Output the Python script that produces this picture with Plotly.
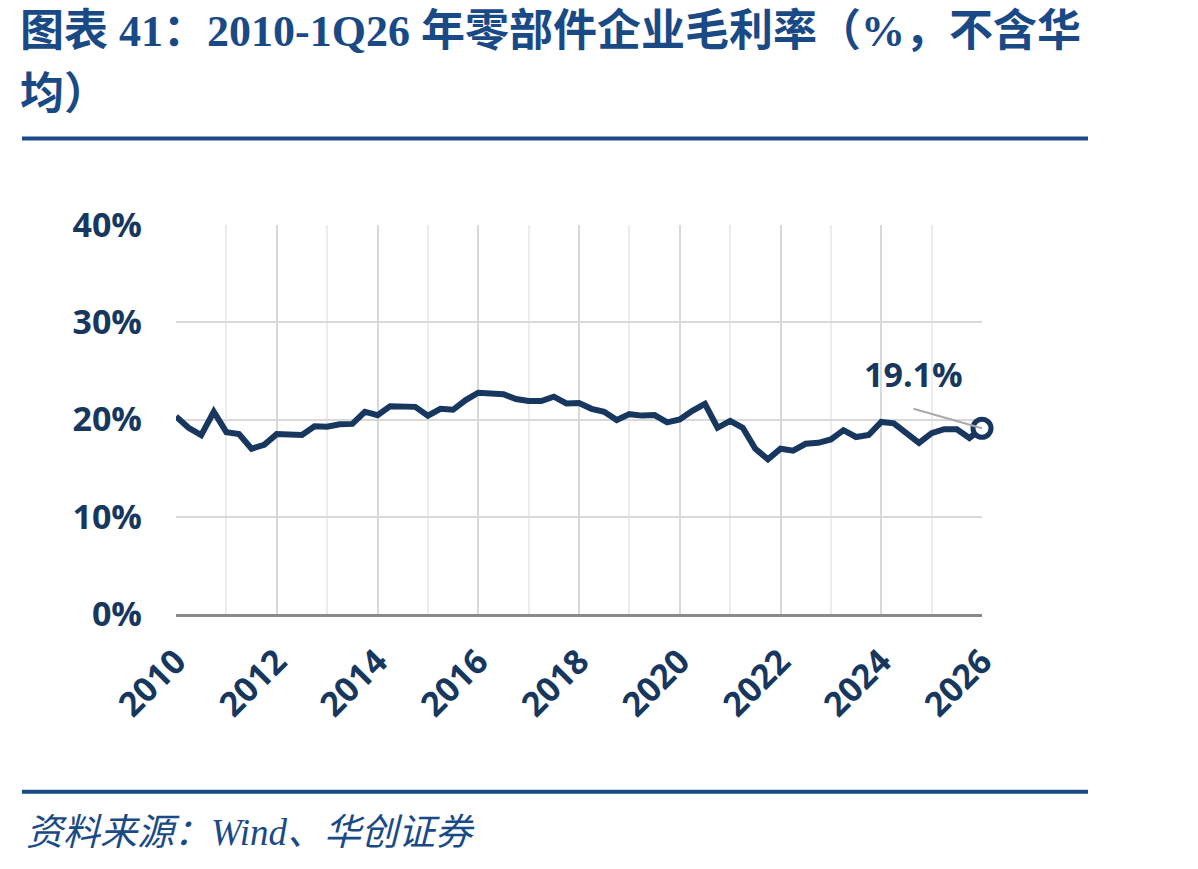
import plotly.graph_objects as go

# ---- data ----
quarters = [f"{y}Q{q}" for y in range(2010, 2026) for q in range(1, 5)] + ["2026Q1"]
margin_pct = [20.3, 19.15, 18.4, 20.8, 18.7, 18.5, 17.0, 17.4, 18.5, 18.45,
              18.4, 19.3, 19.25, 19.5, 19.55, 20.8, 20.45, 21.35, 21.3, 21.3,
              20.4, 21.1, 21.0, 22.0, 22.75, 22.6, 22.6, 22.1, 21.9, 21.9,
              22.35, 21.65, 21.7, 21.1, 20.8, 19.95, 20.55, 20.4, 20.45, 19.7,
              20.0, 20.9, 21.6, 19.15, 19.85, 19.15, 17.0, 15.9, 17.0, 16.8,
              17.5, 17.6, 17.95, 18.9, 18.2, 18.4, 19.75, 19.6, 18.5, 17.6,
              18.6, 19.0, 19.0, 18.1, 19.1]
year_ticks = list(range(2010, 2027, 2))
y_ticks = [0, 10, 20, 30, 40]
y_tick_labels = ["0%", "10%", "20%", "30%", "40%"]
last_label = "19.1%"

title_lines = ["图表 41：2010-1Q26 年零部件企业毛利率（%，不含华", "均）"]
source_text = "资料来源：Wind、华创证券"

# ---- positions ----
xpos = [int(s[:4]) + (int(s[-1]) - 1) / 4 for s in quarters]

W, H = 1198, 869
L, R, T, B = 176, 982, 224.5, 614
def px(x):
    return (x - L) / (R - L)
def py(y):
    return (B - y) / (B - T)

NAVY = "#17375e"
BLUE = "#1a4a86"

fig = go.Figure()
fig.add_trace(go.Scatter(x=xpos, y=margin_pct, mode="lines",
                         line=dict(color=NAVY, width=6), hoverinfo="skip",
                         showlegend=False))
fig.add_trace(go.Scatter(x=[xpos[-1]], y=[margin_pct[-1]], mode="markers",
                         marker=dict(symbol="circle", size=18, color="white",
                                     line=dict(color=NAVY, width=5)),
                         cliponaxis=False, showlegend=False))

fig.update_layout(
    width=W, height=H,
    margin=dict(l=L, r=W - R, t=T, b=H - B, pad=0),
    paper_bgcolor="white", plot_bgcolor="white",
    font=dict(family="Open Sans", color=NAVY),
)
fig.update_xaxes(range=[2010, 2026], tickvals=year_ticks,
                 ticktext=[str(v) for v in year_ticks], tickangle=-45,
                 tickfont=dict(family="Open Sans", size=34, weight="bold", color=NAVY),
                 showgrid=True, gridcolor="#d9d9d9", gridwidth=2,
                 minor=dict(dtick=1, tick0=2010, showgrid=True, gridcolor="#ececec", gridwidth=2),
                 showline=True, linecolor="#898989", linewidth=3,
                 ticks="", ticklabelstandoff=11, zeroline=False)
fig.update_yaxes(range=[0, 40], tickvals=y_ticks, ticktext=y_tick_labels,
                 tickfont=dict(family="Open Sans", size=34, weight="bold", color=NAVY),
                 showgrid=True, gridcolor="#d9d9d9", gridwidth=2,
                 zeroline=False, showline=False, ticks="", ticklabelstandoff=33)

# annotation for last value
fig.add_annotation(x=xpos[-1], y=margin_pct[-1], text="", showarrow=True,
                   arrowhead=0, arrowwidth=2, arrowcolor="#aaaaaa",
                   ax=-70, ay=-20, axref="pixel", ayref="pixel", standoff=0)
fig.add_annotation(x=xpos[-1], y=margin_pct[-1], text=last_label, showarrow=False,
                   xshift=-69, yshift=54,
                   font=dict(family="Open Sans", size=34, weight="bold", color=NAVY))

# title, rules, source
for line_text, cy in zip(title_lines, (31, 94)):
    fig.add_annotation(xref="paper", yref="paper", x=px(18), y=py(cy), xanchor="left",
                       yanchor="middle", align="left", showarrow=False, text=line_text,
                       font=dict(family="Liberation Serif, Noto Sans CJK SC", size=44,
                                 weight="bold", color=BLUE))
for yy in (138, 792):
    fig.add_shape(type="line", xref="paper", yref="paper", x0=px(22), x1=px(1088),
                  y0=py(yy), y1=py(yy), line=dict(color=BLUE, width=4))
fig.add_annotation(xref="paper", yref="paper", x=px(24), y=py(833), xanchor="left",
                   yanchor="middle", showarrow=False, text="<i>" + source_text + "</i>",
                   font=dict(family="Liberation Serif, Noto Sans CJK SC", size=37,
                             color=BLUE))

fig.write_html("out.html")
